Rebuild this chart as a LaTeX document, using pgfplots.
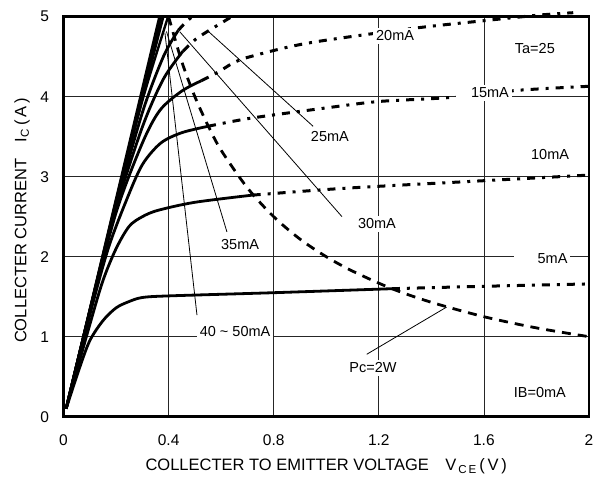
\documentclass[border=0pt]{standalone}
\usepackage{pgfplots}
\pgfplotsset{compat=1.18}
\usepackage{fontspec}
\setmainfont{Liberation Sans}
\tikzset{
  sol/.style={black, line width=2.8bp, smooth, tension=0.5},
  dsh/.style={black, line width=3bp, smooth, tension=0.5, dash pattern=on 8bp off 7bp on 3bp off 7bp},
  pc/.style={black, line width=2.8bp, smooth, dash pattern=on 9bp off 7bp},
  ldr/.style={black, line width=0.8bp},
  lbl/.style={fill=white, inner sep=3bp, font=\fontsize{14.5bp}{16bp}\selectfont},
}
\begin{document}
\begin{tikzpicture}
\useasboundingbox (-63.5bp,-62.3bp) rectangle (534.5bp,416.7bp);
\begin{axis}[
  at={(0,0)}, anchor=south west,
  scale only axis, width=525.5bp, height=400bp,
  xmin=0, xmax=2, ymin=0, ymax=5,
  xtick={0,0.4,0.8,1.2,1.6,2}, ytick={0,1,2,3,4,5},
  major tick length=0pt,
  grid=major,
  major grid style={line width=0.8bp, black!85},
  axis line style={line width=2.5bp},
  tick label style={font=\fontsize{15.5bp}{17bp}\selectfont},
  /pgf/number format/assume math mode=true,
  xticklabel style={yshift=-14bp},
  yticklabel style={xshift=-11bp},
  label style={font=\fontsize{16.5bp}{18bp}\selectfont},
  xlabel={COLLECTER TO EMITTER VOLTAGE\quad V\textsubscript{\,C\,E}\,(\,V\,)},
  ylabel={COLLECTER CURRENT\quad I\textsubscript{C}\,(\,A\,)},
  xlabel style={at={(axis description cs:0.5,-0.125)}, anchor=center},
  ylabel style={at={(axis description cs:-0.079,0.49)}, anchor=center},
  clip=false,
]
% steep bundle (35 - 50 mA)
\addplot[sol, line width=2.4bp] coordinates {(0.01,0.1) (0.365,5)};
\addplot[sol, line width=2.4bp] coordinates {(0.01,0.1) (0.2,2.70) (0.372,5)};
\addplot[sol, line width=2.4bp] coordinates {(0.01,0.1) (0.2,2.68) (0.38,5)};
\addplot[sol, line width=2.4bp] coordinates {(0.01,0.1) (0.1,1.32) (0.2,2.66) (0.3,3.95) (0.398,5)};
% 30 mA
\addplot[sol] coordinates {(0.01,0.1) (0.1,1.32) (0.2,2.63) (0.3,3.8) (0.38,4.5) (0.437,4.83)};
\addplot[dsh] coordinates {(0.437,4.83) (0.465,4.93) (0.49,5.0)};
% 25 mA
\addplot[sol] coordinates {(0.01,0.1) (0.1,1.31) (0.2,2.6) (0.3,3.62) (0.38,4.22) (0.455,4.57)};
\addplot[dsh] coordinates {(0.455,4.57) (0.5,4.71) (0.545,4.81) (0.6,4.92) (0.64,5.0)};
% 20 mA
\addplot[sol] coordinates {(0.01,0.1) (0.1,1.3) (0.2,2.55) (0.3,3.42) (0.367,3.83) (0.45,4.07) (0.525,4.2)};
\addplot[dsh] coordinates {(0.525,4.2) (0.59,4.31) (0.645,4.42) (0.71,4.5) (0.93,4.67) (1.32,4.85) (1.6,4.95) (1.81,5.02) (1.94,5.05)};
% 15 mA
\addplot[sol] coordinates {(0.01,0.1) (0.1,1.27) (0.17,2.1) (0.24,2.71) (0.3,3.15) (0.37,3.42) (0.45,3.55) (0.55,3.63)};
\addplot[dsh] coordinates {(0.55,3.63) (0.71,3.73) (1.0,3.86) (1.2,3.94) (1.47,3.99) (1.73,4.08) (2,4.13)};
% 10 mA
\addplot[sol] coordinates {(0.01,0.1) (0.1,1.15) (0.15,1.7) (0.2,2.1) (0.25,2.38) (0.3,2.5) (0.36,2.58) (0.5,2.68) (0.72,2.77)};
\addplot[dsh] coordinates {(0.72,2.77) (1.0,2.84) (1.2,2.88) (1.6,2.95) (2,3.02)};
% 5 mA
\addplot[sol] coordinates {(0.01,0.1) (0.06,0.6) (0.1,0.95) (0.15,1.2) (0.2,1.36) (0.25,1.44) (0.3,1.49) (0.4,1.51) (0.8,1.55) (1.25,1.6)};
\addplot[dsh] coordinates {(1.25,1.6) (1.6,1.63) (2,1.66)};
% Pc = 2W
\addplot[pc] coordinates {(0.4,5.0) (0.45,4.44) (0.5,4.0) (0.55,3.64) (0.6,3.33) (0.7,2.86) (0.8,2.5) (0.9,2.22) (1.0,2.0) (1.1,1.82) (1.25,1.6) (1.4,1.43) (1.6,1.25) (1.8,1.11) (2.0,1.0)};
% leader lines
\addplot[ldr] coordinates {(0.55,4.82) (0.95,3.63)};
\addplot[ldr] coordinates {(0.443,4.81) (1.06,2.50)};
\addplot[ldr] coordinates {(0.392,4.815) (0.622,2.31)};
\addplot[ldr] coordinates {(0.386,4.80) (0.508,1.27)};
\addplot[ldr] coordinates {(1.458,1.37) (1.154,0.78)};
% labels
\node[lbl] at (axis cs:1.262,4.76) {20mA};
\node[lbl] at (axis cs:1.794,4.60) {Ta=25};
\node[lbl, text width=50bp, align=right] at (axis cs:1.60,4.05) {15mA};
\node[lbl] at (axis cs:1.014,3.50) {25mA};
\node[lbl] at (axis cs:1.852,3.28) {10mA};
\node[lbl] at (axis cs:1.193,2.41) {30mA};
\node[lbl, inner ysep=5bp] at (axis cs:0.672,2.15) {35mA};
\node[lbl, text width=50bp, align=right] at (axis cs:1.823,1.98) {5mA};
\node[lbl, inner ysep=4bp] at (axis cs:0.653,1.07) {40 \textasciitilde{} 50mA};
\node[lbl] at (axis cs:1.178,0.61) {Pc=2W};
\node[lbl] at (axis cs:1.813,0.30) {IB=0mA};
\end{axis}
\end{tikzpicture}
\end{document}
